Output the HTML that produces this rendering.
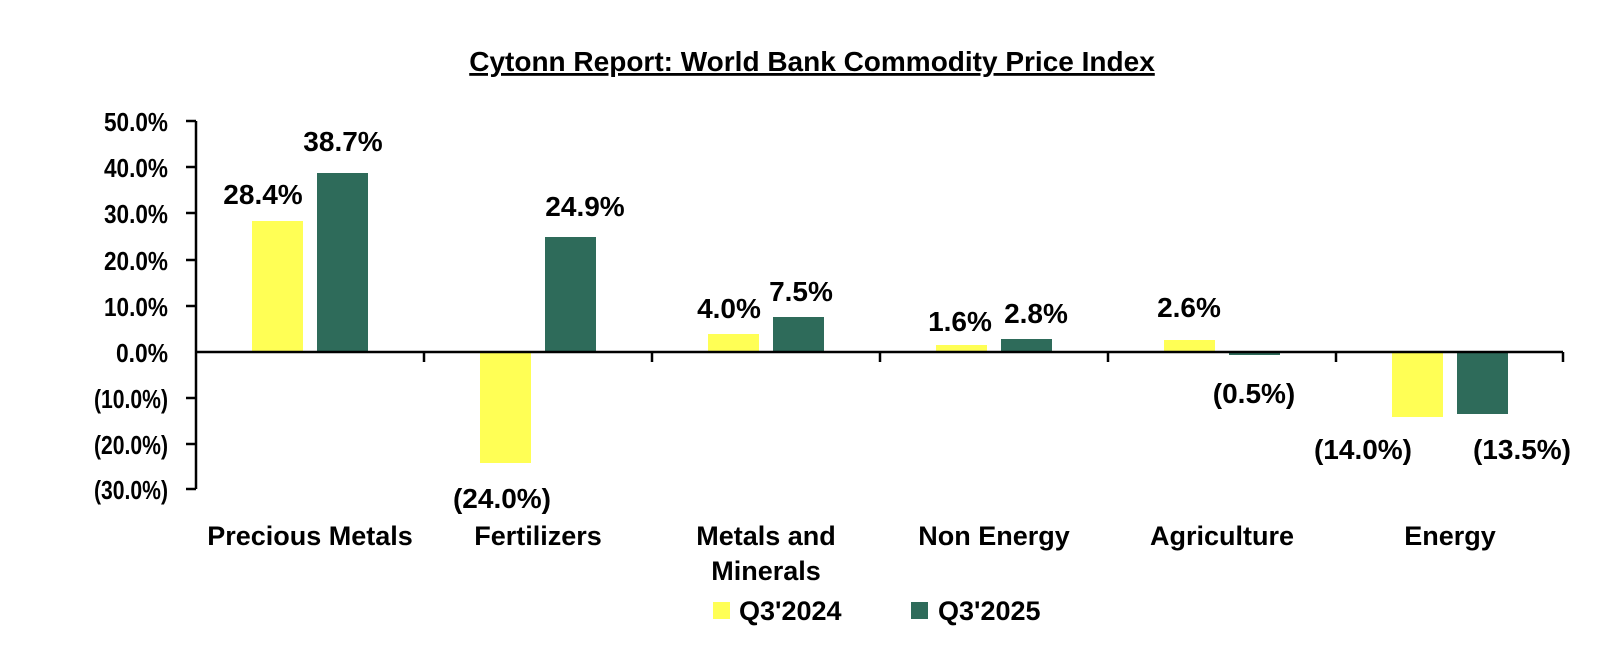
<!DOCTYPE html>
<html><head><meta charset="utf-8"><style>
html,body{margin:0;padding:0;background:#fff}
svg{display:block}
text{font-family:"Liberation Sans",sans-serif;font-weight:bold;fill:#000}
</style></head><body>
<svg width="1608" height="652" viewBox="0 0 1608 652" xmlns="http://www.w3.org/2000/svg">
<text x="812" y="71" font-size="28" text-anchor="middle" text-decoration="underline">Cytonn Report: World Bank Commodity Price Index</text>
<g stroke="#000" stroke-width="2.5" fill="none">
<line x1="196" y1="121" x2="196" y2="489"/>
<line x1="186" y1="121" x2="196" y2="121"/>
<line x1="186" y1="167" x2="196" y2="167"/>
<line x1="186" y1="213" x2="196" y2="213"/>
<line x1="186" y1="260" x2="196" y2="260"/>
<line x1="186" y1="306" x2="196" y2="306"/>
<line x1="186" y1="398" x2="196" y2="398"/>
<line x1="186" y1="444" x2="196" y2="444"/>
<line x1="186" y1="489" x2="196" y2="489"/>
</g>
<g font-size="26" text-anchor="end">
<text x="168" y="131" textLength="64" lengthAdjust="spacingAndGlyphs">50.0%</text>
<text x="168" y="177" textLength="64" lengthAdjust="spacingAndGlyphs">40.0%</text>
<text x="168" y="223" textLength="64" lengthAdjust="spacingAndGlyphs">30.0%</text>
<text x="168" y="270" textLength="64" lengthAdjust="spacingAndGlyphs">20.0%</text>
<text x="168" y="316" textLength="64" lengthAdjust="spacingAndGlyphs">10.0%</text>
<text x="168" y="362" textLength="52" lengthAdjust="spacingAndGlyphs">0.0%</text>
<text x="168" y="408" textLength="74" lengthAdjust="spacingAndGlyphs">(10.0%)</text>
<text x="168" y="454" textLength="74" lengthAdjust="spacingAndGlyphs">(20.0%)</text>
<text x="168" y="499" textLength="74" lengthAdjust="spacingAndGlyphs">(30.0%)</text>
</g>
<g>
<rect x="252" y="221" width="51" height="131" fill="#FFFF55"/>
<rect x="317" y="173" width="51" height="179" fill="#2E6B5A"/>
<rect x="480" y="352" width="51" height="111" fill="#FFFF55"/>
<rect x="545" y="237" width="51" height="115" fill="#2E6B5A"/>
<rect x="708" y="334" width="51" height="18" fill="#FFFF55"/>
<rect x="773" y="317" width="51" height="35" fill="#2E6B5A"/>
<rect x="936" y="345" width="51" height="7" fill="#FFFF55"/>
<rect x="1001" y="339" width="51" height="13" fill="#2E6B5A"/>
<rect x="1164" y="340" width="51" height="12" fill="#FFFF55"/>
<rect x="1229" y="352" width="51" height="3" fill="#2E6B5A"/>
<rect x="1392" y="352" width="51" height="65" fill="#FFFF55"/>
<rect x="1457" y="352" width="51" height="62" fill="#2E6B5A"/>
</g>
<g stroke="#000" stroke-width="2.5">
<line x1="196" y1="352" x2="1563" y2="352"/>
<line x1="424" y1="352" x2="424" y2="362"/>
<line x1="652" y1="352" x2="652" y2="362"/>
<line x1="880" y1="352" x2="880" y2="362"/>
<line x1="1108" y1="352" x2="1108" y2="362"/>
<line x1="1336" y1="352" x2="1336" y2="362"/>
<line x1="1563" y1="352" x2="1563" y2="362"/>
</g>
<g font-size="28" text-anchor="middle">
<text x="263" y="204">28.4%</text>
<text x="343" y="151">38.7%</text>
<text x="502" y="508">(24.0%)</text>
<text x="585" y="216">24.9%</text>
<text x="729" y="318">4.0%</text>
<text x="801" y="301">7.5%</text>
<text x="960" y="331">1.6%</text>
<text x="1036" y="323">2.8%</text>
<text x="1189" y="317">2.6%</text>
<text x="1254" y="403">(0.5%)</text>
<text x="1363" y="459">(14.0%)</text>
<text x="1522" y="459">(13.5%)</text>
</g>
<g font-size="27" text-anchor="middle">
<text x="310" y="545">Precious Metals</text>
<text x="538" y="545">Fertilizers</text>
<text x="766" y="545">Metals and</text>
<text x="766" y="580">Minerals</text>
<text x="994" y="545">Non Energy</text>
<text x="1222" y="545">Agriculture</text>
<text x="1450" y="545">Energy</text>
</g>
<rect x="713" y="602" width="17" height="17" fill="#FFFF55"/>
<text x="739" y="620" font-size="27">Q3'2024</text>
<rect x="911" y="602" width="17" height="17" fill="#2E6B5A"/>
<text x="938" y="620" font-size="27">Q3'2025</text>
</svg>
</body></html>
